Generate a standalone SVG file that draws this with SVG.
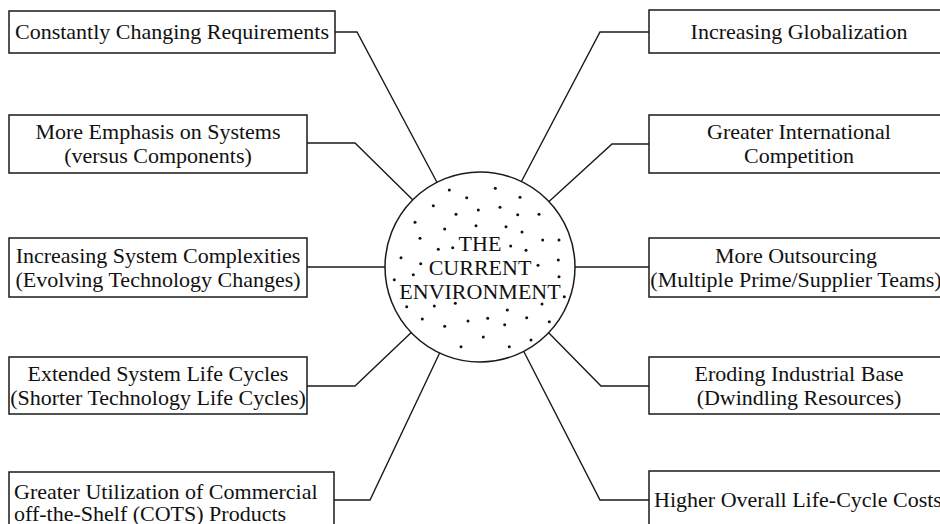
<svg xmlns="http://www.w3.org/2000/svg" width="940" height="524" viewBox="0 0 940 524">
  <style>
    .box { fill: #ffffff; stroke: #1a1a1a; stroke-width: 1.5; }
    .lbl { font-family: "Liberation Serif", "Times New Roman", serif; font-size: 22px; fill: #111111; text-anchor: middle; }
    .lbl-start { text-anchor: start; }
    .wire { fill: none; stroke: #1a1a1a; stroke-width: 1.4; }
    .dot { fill: #111111; }
  </style>

  <rect width="940" height="524" fill="#ffffff"/>

  <!-- connectors from each factor to the central circle -->
  <g id="connectors">
    <path class="wire" d="M335,32 H357 L440,188"/>
    <path class="wire" d="M649,32 H600 L518,188"/>
    <path class="wire" d="M307,143 H355 L418,205"/>
    <path class="wire" d="M649,144 H612 L543,207"/>
    <path class="wire" d="M307,267 H390"/>
    <path class="wire" d="M570,267 H649"/>
    <path class="wire" d="M307,386 H355 L416,328"/>
    <path class="wire" d="M649,386 H601 L544,328"/>
    <path class="wire" d="M334,500 H370 L442,348"/>
    <path class="wire" d="M649,500 H600 L521,346"/>
  </g>

  <!-- central dotted circle -->
  <g id="environment">
    <circle cx="480" cy="267" r="95" fill="#ffffff" stroke="#1a1a1a" stroke-width="1.5"/>
    <g class="dots">
      <circle class="dot" cx="449.3" cy="190" r="1.5"/>
      <circle class="dot" cx="495.3" cy="188.3" r="1.5"/>
      <circle class="dot" cx="466.7" cy="197.7" r="1.5"/>
      <circle class="dot" cx="520" cy="197.3" r="1.5"/>
      <circle class="dot" cx="433.3" cy="205.7" r="1.5"/>
      <circle class="dot" cx="500" cy="207.3" r="1.5"/>
      <circle class="dot" cx="478.3" cy="210" r="1.5"/>
      <circle class="dot" cx="456" cy="214.3" r="1.5"/>
      <circle class="dot" cx="517.7" cy="214.7" r="1.5"/>
      <circle class="dot" cx="539" cy="214.3" r="1.5"/>
      <circle class="dot" cx="415" cy="222.3" r="1.5"/>
      <circle class="dot" cx="476" cy="225.7" r="1.5"/>
      <circle class="dot" cx="506" cy="226.7" r="1.5"/>
      <circle class="dot" cx="444.7" cy="229" r="1.5"/>
      <circle class="dot" cx="522" cy="232" r="1.5"/>
      <circle class="dot" cx="420" cy="238.3" r="1.5"/>
      <circle class="dot" cx="542.7" cy="240" r="1.5"/>
      <circle class="dot" cx="559" cy="240" r="1.5"/>
      <circle class="dot" cx="438.3" cy="249.3" r="1.5"/>
      <circle class="dot" cx="452.7" cy="247.7" r="1.5"/>
      <circle class="dot" cx="510.7" cy="246" r="1.5"/>
      <circle class="dot" cx="526" cy="250.3" r="1.5"/>
      <circle class="dot" cx="401" cy="257.7" r="1.5"/>
      <circle class="dot" cx="558.3" cy="260" r="1.5"/>
      <circle class="dot" cx="420.7" cy="263.7" r="1.5"/>
      <circle class="dot" cx="538" cy="265.3" r="1.5"/>
      <circle class="dot" cx="413.3" cy="274.7" r="1.5"/>
      <circle class="dot" cx="559" cy="276.7" r="1.5"/>
      <circle class="dot" cx="394.3" cy="279.7" r="1.5"/>
      <circle class="dot" cx="564.3" cy="296.7" r="1.5"/>
      <circle class="dot" cx="406.7" cy="306.7" r="1.5"/>
      <circle class="dot" cx="434.3" cy="306" r="1.5"/>
      <circle class="dot" cx="455.3" cy="303.3" r="1.5"/>
      <circle class="dot" cx="542" cy="304" r="1.5"/>
      <circle class="dot" cx="507.3" cy="310" r="1.5"/>
      <circle class="dot" cx="422.3" cy="319" r="1.5"/>
      <circle class="dot" cx="487.7" cy="318.3" r="1.5"/>
      <circle class="dot" cx="526.7" cy="317.7" r="1.5"/>
      <circle class="dot" cx="468" cy="321" r="1.5"/>
      <circle class="dot" cx="549.3" cy="321.7" r="1.5"/>
      <circle class="dot" cx="444.7" cy="326.3" r="1.5"/>
      <circle class="dot" cx="504.7" cy="324.7" r="1.5"/>
      <circle class="dot" cx="483.3" cy="337" r="1.5"/>
      <circle class="dot" cx="531" cy="340" r="1.5"/>
      <circle class="dot" cx="461" cy="346.7" r="1.5"/>
      <circle class="dot" cx="509.3" cy="346.7" r="1.5"/>
    </g>
    <text class="lbl" x="480" y="251">THE</text>
    <text class="lbl" x="480" y="275">CURRENT</text>
    <text class="lbl" x="480" y="299">ENVIRONMENT</text>
  </g>

  <!-- left column -->
  <g id="changing-requirements">
    <rect class="box" x="9" y="11" width="326" height="42"/>
    <text class="lbl" x="172" y="39">Constantly Changing Requirements</text>
  </g>
  <g id="emphasis-systems">
    <rect class="box" x="9" y="115" width="298" height="58"/>
    <text class="lbl" x="158" y="139">More Emphasis on Systems</text>
    <text class="lbl" x="158" y="163">(versus Components)</text>
  </g>
  <g id="system-complexities">
    <rect class="box" x="9" y="238" width="298" height="59"/>
    <text class="lbl" x="158" y="263">Increasing System Complexities</text>
    <text class="lbl" x="158" y="287">(Evolving Technology Changes)</text>
  </g>
  <g id="life-cycles">
    <rect class="box" x="9" y="357" width="298" height="57"/>
    <text class="lbl" x="158" y="381">Extended System Life Cycles</text>
    <text class="lbl" x="158" y="405">(Shorter Technology Life Cycles)</text>
  </g>
  <g id="cots">
    <rect class="box" x="9" y="472" width="325" height="70"/>
    <text class="lbl lbl-start" x="14" y="499">Greater Utilization of Commercial</text>
    <text class="lbl lbl-start" x="14" y="521">off-the-Shelf (COTS) Products</text>
  </g>

  <!-- right column -->
  <g id="globalization">
    <rect class="box" x="649" y="10" width="300" height="43"/>
    <text class="lbl" x="799" y="39">Increasing Globalization</text>
  </g>
  <g id="international-competition">
    <rect class="box" x="649" y="115" width="300" height="58"/>
    <text class="lbl" x="799" y="139">Greater International</text>
    <text class="lbl" x="799" y="163">Competition</text>
  </g>
  <g id="outsourcing">
    <rect class="box" x="649" y="238" width="300" height="59"/>
    <text class="lbl" x="796" y="263">More Outsourcing</text>
    <text class="lbl" x="796" y="287">(Multiple Prime/Supplier Teams)</text>
  </g>
  <g id="industrial-base">
    <rect class="box" x="649" y="357" width="300" height="57"/>
    <text class="lbl" x="799" y="381">Eroding Industrial Base</text>
    <text class="lbl" x="799" y="405">(Dwindling Resources)</text>
  </g>
  <g id="life-cycle-costs">
    <rect class="box" x="649" y="471" width="300" height="70"/>
    <text class="lbl" x="798" y="507">Higher Overall Life-Cycle Costs</text>
  </g>
</svg>
